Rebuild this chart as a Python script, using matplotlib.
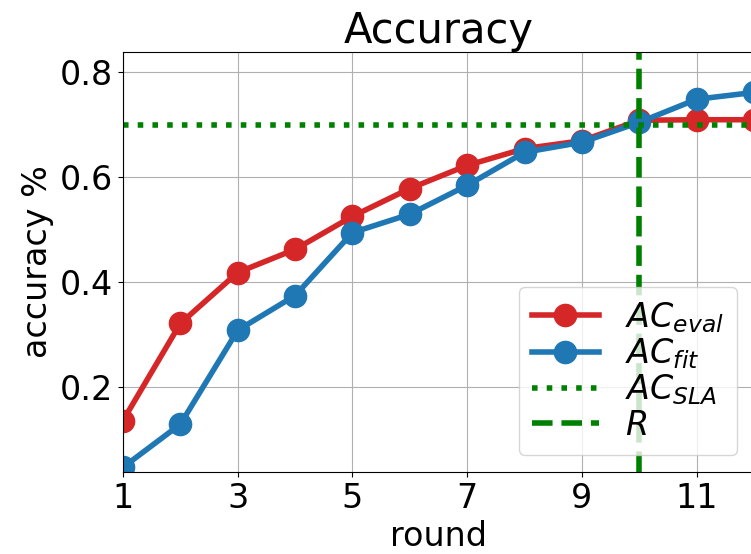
import numpy as np
import matplotlib
matplotlib.use('Agg')
import matplotlib.pyplot as plt

rounds = np.arange(1, 13)
ac_eval = [0.137, 0.322, 0.419, 0.463, 0.526, 0.579, 0.623, 0.655, 0.670, 0.709, 0.710, 0.710]
ac_fit = [0.048, 0.130, 0.309, 0.375, 0.495, 0.530, 0.585, 0.648, 0.667, 0.705, 0.749, 0.762]
ac_sla = 0.7
r_round = 10

fig = plt.figure(figsize=(7.51, 5.54), dpi=100)
ax = fig.add_axes([123 / 751, 82 / 554, 631 / 751, 420 / 554])

ax.plot(rounds, ac_eval, color='tab:red', marker='o', lw=4, markersize=16, label=r'$AC_{eval}$')
ax.plot(rounds, ac_fit, color='tab:blue', marker='o', lw=4, markersize=16, label=r'$AC_{fit}$')
ax.axhline(ac_sla, color='green', linestyle=':', lw=4, label=r'$AC_{SLA}$')
ax.axvline(r_round, color='green', linestyle='--', lw=4, label=r'$R$')

ax.set_xlim(1, 12)
ax.set_ylim(0.039, 0.839)
ax.set_xticks([1, 3, 5, 7, 9, 11])
ax.set_yticks([0.2, 0.4, 0.6, 0.8])
ax.tick_params(labelsize=24)
ax.grid(True)
ax.set_axisbelow(True)

ax.set_title('Accuracy', fontsize=30)
ax.set_xlabel('round', fontsize=24)
ax.set_ylabel('accuracy %', fontsize=24)
ax.legend(loc='lower right', fontsize=24, labelspacing=0.05)

fig.savefig('out.png', dpi=100)
